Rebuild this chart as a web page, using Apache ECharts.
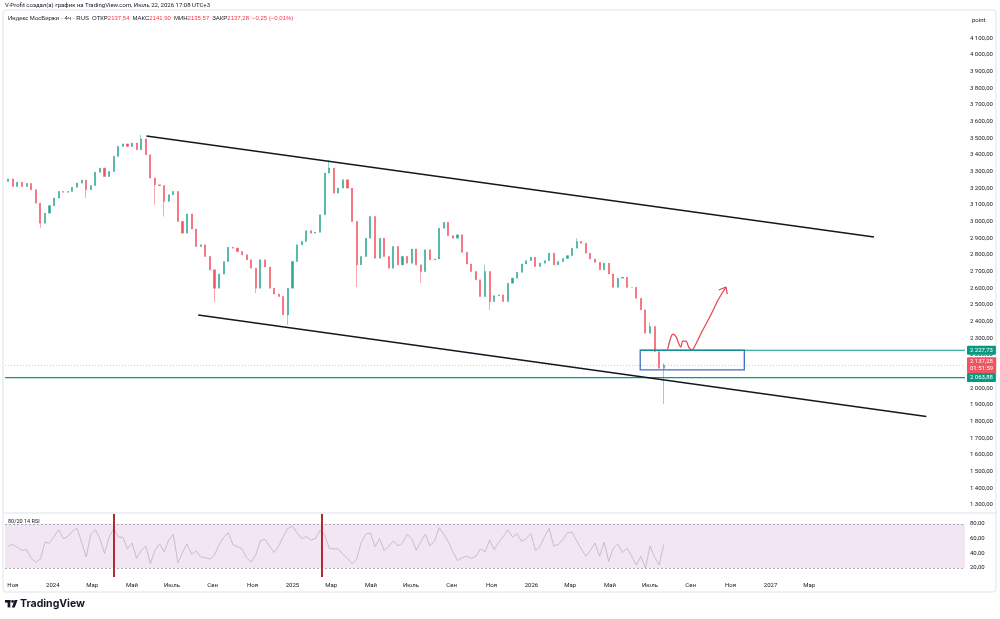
<!DOCTYPE html>
<html>
<head>
<meta charset="utf-8">
<script src="https://cdn.jsdelivr.net/npm/echarts@6/dist/echarts.min.js"></script>
<style>
  html, body { margin: 0; padding: 0; background: #fff; }
  #chart { width: 1000px; height: 619px; }
</style>
</head>
<body>
<div id="chart"></div>
<script>
// weekly bars, first bar 2023-10-25, last 2026-07-22
const firstBar = '2023-10-25';
const firstOpen = 3240;
const closes = [
  3255, 3210, 3235, 3210, 3228, 3190, 3110, 2990, 3050, 3095,
  3140, 3180, 3175, 3180, 3205, 3230, 3248, 3190, 3215, 3295,
  3320, 3270, 3300, 3390, 3450, 3465, 3450, 3470, 3430, 3495,
  3400, 3260, 3220, 3215, 3120, 3160, 3180, 3000, 2930, 3045,
  2955, 2850, 2860, 2790, 2710, 2600, 2685, 2760, 2845, 2840,
  2820, 2800, 2770, 2720, 2600, 2770, 2727, 2600, 2565, 2550,
  2440, 2600, 2760, 2860, 2880, 2945, 2930, 2935, 3040, 3290,
  3320, 3170, 3200, 3250, 3200, 3000, 2740, 2790, 2900, 3030,
  2780, 2900, 2790, 2720, 2850, 2740, 2790, 2750, 2835, 2740,
  2700, 2830, 2770, 2775, 2960, 2995, 2915, 2900, 2920, 2815,
  2745, 2700, 2650, 2550, 2700, 2520, 2555, 2560, 2520, 2630,
  2660, 2695, 2745, 2765, 2785, 2730, 2750, 2765, 2810, 2740,
  2760, 2778, 2795, 2840, 2880, 2870, 2810, 2775, 2755, 2710,
  2750, 2685, 2605, 2660, 2665, 2605, 2605, 2540, 2470, 2330,
  2370, 2220, 2120, 2137.28
];
// visible spikes: [bar, low, high]
const wicks = [
  [7, 2960, null], [17, 3140, null], [29, null, 3519], [32, 3100, null],
  [34, 3030, null], [45, 2517, null], [54, 2571, null], [61, 2379, null],
  [70, null, 3370], [76, 2607, null], [90, 2631, null], [104, null, 2740],
  [105, 2469, null], [124, null, 2900], [140, null, 2395], [143, 1905, 2150]
];
const rsi = [
  50, 52, 48, 44, 45, 33, 28, 32, 55, 54,
  63, 72, 60, 63, 70, 74, 55, 35, 66, 72,
  60, 40, 62, 74, 62, 62, 46, 54, 33, 44,
  50, 26, 44, 53, 42, 58, 66, 27, 41, 53,
  39, 43, 35, 34, 32, 38, 52, 62, 68, 52,
  49, 46, 34, 28, 38, 57, 59, 50, 41, 50,
  63, 74, 77, 68, 60, 63, 58, 60, 71, 66,
  47, 46, 46, 39, 33, 26, 32, 55, 66, 68,
  49, 60, 44, 50, 57, 50, 54, 66, 60, 44,
  56, 66, 50, 57, 75, 66, 56, 42, 30, 34,
  36, 33, 36, 46, 42, 58, 45, 55, 63, 72,
  62, 67, 56, 60, 67, 44, 49, 63, 74, 50,
  52, 59, 68, 69, 57, 46, 36, 44, 54, 36,
  55, 29, 47, 53, 41, 47, 36, 24, 36, 20,
  50, 35, 24, 52
];
const monthTicks = ['2023-11-01', '2024-01-01', '2024-03-01', '2024-05-01', '2024-07-01', '2024-09-01',
  '2024-11-01', '2025-01-01', '2025-03-01', '2025-05-01', '2025-07-01', '2025-09-01', '2025-11-01',
  '2026-01-01', '2026-03-01', '2026-05-01', '2026-07-01', '2026-09-01', '2026-11-01', '2027-01-01', '2027-03-01'];
const monthLabels = ['Ноя', '2024', 'Мар', 'Май', 'Июль', 'Сен', 'Ноя', '2025', 'Мар', 'Май', 'Июль', 'Сен',
  'Ноя', '2026', 'Мар', 'Май', 'Июль', 'Сен', 'Ноя', '2027', 'Мар'];
const priceTicks = [1300, 1400, 1500, 1600, 1700, 1800, 1900, 2000, 2200, 2300, 2400, 2500, 2600, 2700,
  2800, 2900, 3000, 3100, 3200, 3300, 3400, 3500, 3600, 3700, 3800, 3900, 4000, 4100];
const rsiTicks = [20, 40, 60, 80];

const levelTop = 2227.73, levelBottom = 2063.88, lastPrice = 2137.28;
const upperTrend = [['2024-05-23', 3512], ['2027-06-08', 2907]];
const lowerTrend = [['2024-08-10', 2439], ['2027-08-27', 1831]];
const zoneBox = [['2026-06-16', 2227.73], ['2026-11-22', 2110]];
const arrowPath = [['2026-07-28', 2235], ['2026-08-02', 2307], ['2026-08-05', 2325], ['2026-08-10', 2307],
  ['2026-08-14', 2265], ['2026-08-17', 2247], ['2026-08-20', 2283], ['2026-08-25', 2283],
  ['2026-08-29', 2247], ['2026-09-03', 2230], ['2026-09-09', 2265], ['2026-09-18', 2337],
  ['2026-10-01', 2433], ['2026-10-13', 2529], ['2026-10-25', 2607]];
const arrowHead = [['2026-10-14', 2589], ['2026-10-25', 2607], ['2026-10-27', 2565]];
const rsiMarks = ['2024-04-03', '2025-02-15'];

const xMin = Date.parse('2023-10-20');
const xMax = Date.parse('2027-10-25');
const DAY = 86400000;
const t = d => Date.parse(d);
const up = '#089981', down = '#f23645';
const font = 'Roboto, "Noto Sans", sans-serif';

const t0 = Date.parse(firstBar);
const candles = closes.map((c, i) => {
  const o = i ? closes[i - 1] : firstOpen;
  let lo = Math.min(o, c), hi = Math.max(o, c);
  const w = wicks.find(e => e[0] === i);
  if (w) {
    if (w[1] != null) lo = w[1];
    if (w[2] != null) hi = w[2];
  }
  return [t0 + i * 7 * DAY, o, c, lo, hi];
});
const rsiData = rsi.map((v, i) => [t0 + i * 7 * DAY, v]);

function fmtPrice(v) {
  const s = v.toFixed(2).replace('.', ',');
  const [a, b] = s.split(',');
  return (a.length > 3 ? a.slice(0, a.length - 3) + ' ' + a.slice(-3) : a) + ',' + b;
}

// horizontal level drawn as a two-point line with a price badge at its end
function level(x0, v, color, text, lineType, width, bg) {
  return {
    type: 'line', xAxisIndex: 0, yAxisIndex: 0, silent: true, symbol: 'none', z: 4,
    data: [[x0, v], [xMax, v]],
    lineStyle: { color: color, width: width, type: lineType },
    endLabel: {
      show: true, formatter: text, distance: 2, fontSize: 6, fontFamily: font, color: '#fff',
      backgroundColor: bg || color, padding: [1, 3], borderRadius: 1, lineHeight: 7
    }
  };
}

const chart = echarts.init(document.getElementById('chart'));
const option = {
  animation: false,
  backgroundColor: '#fff',
  textStyle: { fontFamily: font },
  grid: [
    { left: 5, right: 35, top: 12, bottom: 106 },
    { left: 5, right: 35, top: 514, bottom: 42 }
  ],
  xAxis: [
    { type: 'value', gridIndex: 0, min: xMin, max: xMax, axisLine: { show: false }, axisTick: { show: false },
      axisLabel: { show: false }, splitLine: { show: false } },
    { type: 'value', gridIndex: 1, min: xMin, max: xMax, axisLine: { show: false }, axisTick: { show: false },
      splitLine: { show: false },
      axisLabel: {
        customValues: monthTicks.map(t), margin: 5, fontSize: 6, color: '#131722', fontFamily: font,
        formatter: v => monthLabels[monthTicks.map(t).indexOf(v)] || ''
      } }
  ],
  yAxis: [
    { type: 'value', gridIndex: 0, position: 'right', min: 1252, max: 4256,
      axisLine: { show: false }, axisTick: { show: false }, splitLine: { show: false },
      axisLabel: { customValues: priceTicks, margin: 5, fontSize: 6, color: '#131722', fontFamily: font,
        formatter: v => fmtPrice(v) } },
    { type: 'value', gridIndex: 1, position: 'right', min: 7.7, max: 93.6,
      axisLine: { show: false }, axisTick: { show: false }, splitLine: { show: false },
      axisLabel: { customValues: rsiTicks, margin: 5, fontSize: 6, color: '#131722', fontFamily: font,
        formatter: v => v + ',00' } }
  ],
  series: [
    {
      type: 'candlestick', xAxisIndex: 0, yAxisIndex: 0,
      data: candles, encode: { x: 0, y: [1, 2, 3, 4] },
      barWidth: 1.6,
      itemStyle: { color: up, color0: down, borderColor: up, borderColor0: down, borderWidth: 0.5, opacity: 0.85 },
      markLine: {
        silent: true, symbol: 'none', animation: false,
        data: [
          [{ coord: [t(upperTrend[0][0]), upperTrend[0][1]] }, { coord: [t(upperTrend[1][0]), upperTrend[1][1]] }],
          [{ coord: [t(lowerTrend[0][0]), lowerTrend[0][1]] }, { coord: [t(lowerTrend[1][0]), lowerTrend[1][1]] }]
        ],
        lineStyle: { color: '#131722', width: 1.5, type: 'solid' },
        label: { show: false }
      },
      markArea: {
        silent: true,
        data: [[{ coord: [t(zoneBox[0][0]), zoneBox[0][1]] }, { coord: [t(zoneBox[1][0]), zoneBox[1][1]] }]],
        itemStyle: { color: 'rgba(255,255,255,0)', borderColor: '#3d6fc4', borderWidth: 1.3 },
        label: { show: false }
      }
    },
    level(xMin, lastPrice, '#f7a1a8', fmtPrice(lastPrice) + '\n01:51:59', [1, 2], 0.8, '#f05461'),
    level(t(zoneBox[0][0]), levelTop, up, fmtPrice(levelTop), 'solid', 1.2),
    level(xMin, levelBottom, up, fmtPrice(levelBottom), 'solid', 1.2),
    {
      type: 'line', xAxisIndex: 0, yAxisIndex: 0, silent: true, symbol: 'none',
      data: arrowPath.map(p => [t(p[0]), p[1]]), smooth: 0.3,
      lineStyle: { color: '#e5404d', width: 1.2 }
    },
    {
      type: 'line', xAxisIndex: 0, yAxisIndex: 0, silent: true, symbol: 'none',
      data: arrowHead.map(p => [t(p[0]), p[1]]),
      lineStyle: { color: '#e5404d', width: 1.2 }
    },
    {
      type: 'line', xAxisIndex: 1, yAxisIndex: 1, silent: true, symbol: 'none',
      data: rsiData,
      lineStyle: { color: '#bdb2bd', width: 0.8 },
      markArea: {
        silent: true,
        data: [[{ coord: [xMin, 20] }, { coord: [xMax, 80] }]],
        itemStyle: { color: '#f3e6f3' }
      },
      markLine: {
        silent: true, symbol: 'none', animation: false, label: { show: false },
        data: [
          { yAxis: 80, lineStyle: { color: '#9598a1', width: 0.8, type: [2, 2] } },
          { yAxis: 20, lineStyle: { color: '#9598a1', width: 0.8, type: [2, 2] } },
          { xAxis: t(rsiMarks[0]), lineStyle: { color: '#b22833', width: 2, type: 'solid' } },
          { xAxis: t(rsiMarks[1]), lineStyle: { color: '#b22833', width: 2, type: 'solid' } }
        ]
      }
    }
  ],
  graphic: [
    { type: 'rect', shape: { x: 3, y: 10, width: 993, height: 582, r: 3 }, style: { fill: 'none', stroke: '#e0e3eb', lineWidth: 1 }, z: -1 },
    { type: 'line', shape: { x1: 3, y1: 513, x2: 996, y2: 513 }, style: { stroke: '#e0e3eb', lineWidth: 1 } },
    { type: 'text', left: 5, top: 2, style: { text: 'V-Profit создал(а) график на TradingView.com, Июль 22, 2026 17:08 UTC+3', fontSize: 6, fill: '#131722', fontFamily: font } },
    { type: 'text', left: 8, top: 15, style: {
      text: '{g|Индекс МосБиржи · 4ч · RUS}  {k|ОТКР}{r|2137,54}  {k|МАКС}{r|2141,90}  {k|МИН}{r|2135,57}  {k|ЗАКР}{r|2137,28}  {r|−0,25 (−0,01%)}',
      fontSize: 6, fontFamily: font,
      rich: { g: { fill: '#131722', fontSize: 6 }, k: { fill: '#131722', fontSize: 6 }, r: { fill: '#f23645', fontSize: 6 } }
    } },
    { type: 'text', left: 972, top: 17, style: { text: 'point', fontSize: 6, fill: '#131722', fontFamily: font } },
    { type: 'text', left: 8, top: 519, style: { text: '80/20 14 RSI', fontSize: 5.5, fill: '#131722', fontFamily: font } },
    { type: 'rect', shape: { x: 5, y: 600, width: 5.5, height: 2.6 }, style: { fill: '#131722' } },
    { type: 'rect', shape: { x: 7.6, y: 600, width: 2.7, height: 7.4 }, style: { fill: '#131722' } },
    { type: 'circle', shape: { cx: 12.6, cy: 601.4, r: 1.4 }, style: { fill: '#131722' } },
    { type: 'polygon', shape: { points: [[14.6, 600], [17.6, 600], [14.7, 607.4], [11.8, 607.4]] }, style: { fill: '#131722' } },
    { type: 'text', left: 20, top: 598, style: { text: 'TradingView', fontSize: 10.5, fontWeight: 'bold', fill: '#131722', fontFamily: 'Inter, Roboto, sans-serif' } }
  ]
};
chart.setOption(option);
</script>
</body>
</html>
